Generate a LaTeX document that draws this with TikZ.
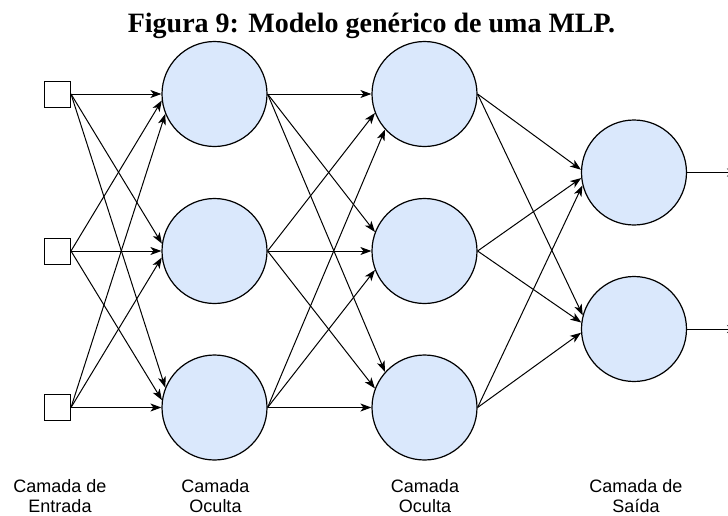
\documentclass[tikz,border=0pt]{standalone}
\usepackage{fontspec}
\setmainfont{Liberation Serif}
\setsansfont{Liberation Sans}
\usepackage{xcolor}
\usetikzlibrary{positioning, arrows.meta}
\definecolor{neuronblue}{HTML}{DAE8FC}

\begin{document}
\begin{tikzpicture}[x=1pt, y=-1pt,
    neuron/.style={circle, draw, line width=1.2pt, fill=neuronblue, minimum size=105pt, inner sep=0pt},
    inbox/.style={rectangle, draw, line width=1pt, fill=white, minimum size=26pt, inner sep=0pt},
    arr/.style={-{Stealth[length=11pt, width=8pt, inset=3pt]}, line width=1pt},
    layerlabel/.style={font=\fontsize{18}{20}\selectfont\sffamily, align=center, anchor=base}]
\useasboundingbox (0,0) rectangle (728,515);

% Title
\node[anchor=base, font=\fontsize{28}{30}\selectfont\bfseries] (title) at (371.5,32) {Figura 9: Modelo genérico de uma MLP.};

% Input, first and second hidden layer
\foreach \i/\ypos in {1/94, 2/251, 3/407.5} {
    \node[inbox] (in\i) at (57.5,\ypos) {};
    \node[neuron] (ha\i) at (214.5,\ypos) {};
    \node[neuron] (hb\i) at (424.5,\ypos) {};
}

% Output layer
\node[neuron] (out1) at (634,172.5) {};
\node[neuron] (out2) at (634,329) {};

% Fully connected weights
\foreach \i in {1,2,3} {
    \foreach \j in {1,2,3} {
        % Entry point on the target, a bit off the west side
        \pgfmathsetmacro{\angA}{180-(\j-\i)*(4+3.5*abs(\j-\i))}
        \pgfmathsetmacro{\angB}{180-(\j-\i)*21}
        \draw[arr] (in\i.east) -- (ha\j.\angA);
        \draw[arr] (ha\i.east) -- (hb\j.\angB);
    }
}
\foreach \s/\t/\ang in {1/1/177, 2/1/186, 3/1/194, 1/2/165, 2/2/173, 3/2/184} {
    \draw[arr] (hb\s.east) -- (out\t.\ang);
}

% Outputs
\coordinate (y1) at (738,172.5);
\coordinate (y2) at (738,329);
\draw[arr] (out1.east) -- (y1);
\draw[arr] (out2.east) -- (y2);

% Layer names (base = last line)
\node[layerlabel] (lblin) at (60,512) {Camada de\\Entrada};
\node[layerlabel] (lblha) at (215.5,512) {Camada\\Oculta};
\node[layerlabel] (lblhb) at (425,512) {Camada\\Oculta};
\node[layerlabel] (lblout) at (636,512) {Camada de\\Saída};

\end{tikzpicture}
\end{document}
